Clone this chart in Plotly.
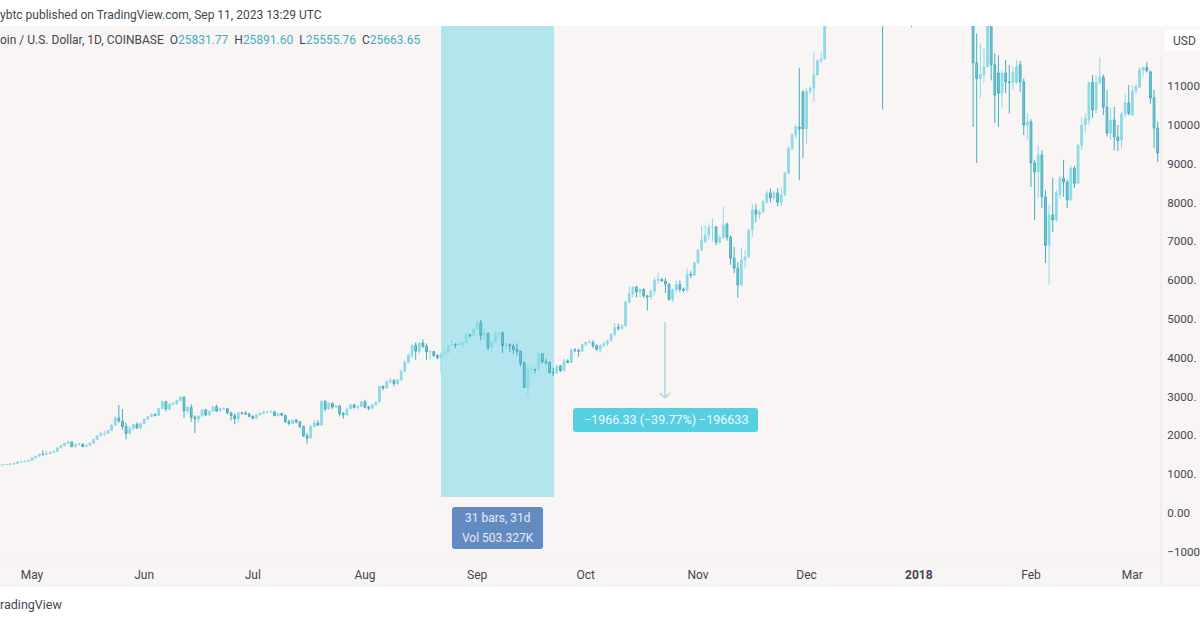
import pandas as pd
import plotly.graph_objects as go

START_DATE = "2017-04-22"

opens = [
    # Apr 22-30
    1225,1242,1250,1250,1262,1280,1318,1325,1337,
    # May
    1354,1421,1464,1515,1510,1530,1566,1584,1680,1740,1795,1830,1710,1770,1772,1710,1745,1800,1890,1990,2045,2050,2125,2265,2450,2370,2230,2050,2180,2280,2190,
    # Jun
    2300,2420,2485,2540,2515,2690,2870,2680,2800,2815,2900,2990,2630,2720,2470,2430,2500,2660,2530,2620,2740,2630,2690,2690,2580,2510,2430,2580,2570,2550,
    # Jul
    2490,2440,2530,2565,2600,2610,2610,2510,2565,2520,2350,2310,2395,2350,2230,1990,1930,2230,2320,2265,2880,2680,2830,2730,2760,2565,2530,2680,2790,2720,2750,
    # Aug
    2870,2730,2700,2790,2860,3260,3220,3390,3420,3340,3430,3650,3880,4060,4320,4170,4380,4300,4150,4160,4060,4000,4090,4140,4320,4350,4340,4345,4390,4590,4570,
    # Sep
    4740,4900,4580,4630,4270,4400,4620,4640,4320,4340,4310,4220,4170,3860,3240,3700,3700,3690,4100,3900,3880,3620,3610,3790,3670,3920,3880,4200,4190,4170,
    # Oct
    4340,4400,4400,4310,4220,4320,4370,4440,4610,4780,4760,4820,5440,5650,5820,5700,5760,5600,5570,5720,5990,6020,5980,5900,5510,5750,5890,5770,5750,6150,6130,
    # Nov
    6450,6780,7000,7160,7370,7370,6980,7100,7450,7110,6570,6310,5880,6520,6600,7290,7810,7700,7760,8020,8250,8120,8250,8010,8200,8760,9400,9740,9950,10850,
    # Dec
    9900,10870,10950,11290,11650,11700,13750,16800,16400,14950,15450,16700,17200,16200,16400,17600,19200,19000,18950,17500,16450,15550,13800,14650,13950,13950,15750,15370,14400,14400,12600,
    # Jan
    13860,13400,14750,15150,15300,16950,17100,16100,14950,14400,14900,13250,13800,14200,13600,13600,11600,11200,11300,11500,12900,11550,11340,10820,11340,11110,11100,11100,11550,11110,10000,
    # Feb
    10080,9020,8790,9230,8150,6900,7680,7550,8200,8630,8530,8070,8890,8500,9480,10000,10130,11100,10390,11100,11230,10460,9790,10130,9690,9610,10280,10570,
    # Mar 1-8
    10260,10880,10980,11420,11480,11370,10700,9920,
]
highs = [
    1250,1258,1260,1270,1290,1330,1345,1345,1365,
    1430,1475,1530,1620,1600,1585,1610,1700,1760,1810,1860,1835,1790,1810,1790,1770,1830,1910,2010,2090,2120,2150,2300,2500,2785,2680,2330,2250,2310,2340,2320,
    2440,2500,2565,2570,2700,2900,2880,2830,2860,2920,3000,3000,2760,2800,2520,2520,2680,2680,2650,2760,2790,2720,2730,2700,2610,2560,2600,2610,2620,2590,
    2520,2550,2600,2640,2630,2640,2620,2580,2590,2530,2410,2420,2420,2360,2250,2060,2280,2400,2400,2900,2900,2850,2840,2780,2770,2610,2720,2810,2800,2770,2890,
    2920,2760,2810,2880,3290,3290,3410,3490,3450,3460,3700,3950,4120,4340,4400,4400,4480,4370,4190,4180,4090,4130,4260,4340,4460,4370,4400,4400,4640,4620,4760,
    4970,4980,4730,4660,4460,4690,4680,4680,4390,4380,4350,4370,4180,3920,3790,3780,3720,4150,4120,3980,3910,3740,3830,3820,3980,3960,4250,4250,4220,4360,
    4420,4470,4450,4350,4350,4410,4460,4640,4890,4880,4870,5460,5850,5850,5860,5790,5790,5620,5760,6070,6190,6060,6060,5920,5780,5990,5990,5810,6300,6230,6470,
    6800,7400,7420,7470,7600,7400,7150,7890,7480,7150,6860,6470,6830,6780,7320,7960,7960,7820,8060,8320,8370,8300,8370,8370,8800,9450,9800,10000,11470,10900,
    10950,11000,11880,11700,11880,13850,17000,17300,16500,15800,17400,17600,17300,16600,17800,19400,19700,19200,19000,17700,17300,15800,15000,15000,14500,16000,16400,15500,15100,14500,14300,
    14000,15300,15400,15400,17100,17250,17100,16300,15300,14950,14950,14100,14650,14400,14300,13600,12360,12100,11980,13100,12900,11850,11800,11400,11680,11550,11500,11680,11650,11200,10300,
    10150,9100,9480,9350,8320,7940,8630,8320,8680,9100,8600,8950,8950,9500,10200,10300,11100,11290,11290,11750,11300,10900,10450,10460,10000,10350,10820,11030,
    11030,11050,11500,11500,11620,11400,10900,10080,
]
lows = [
    1218,1232,1240,1245,1258,1275,1300,1315,1330,
    1350,1410,1460,1480,1490,1525,1540,1580,1670,1720,1790,1700,1690,1750,1700,1700,1740,1800,1885,1985,1980,2040,2120,2260,2330,2150,1900,2020,2130,2170,2160,
    2290,2400,2470,2490,2510,2680,2620,2650,2770,2790,2880,2450,2560,2350,2060,2320,2480,2500,2500,2600,2600,2610,2660,2540,2380,2290,2340,2530,2530,2470,
    2410,2430,2520,2560,2580,2590,2490,2500,2510,2330,2260,2290,2310,2180,1960,1790,1920,2200,2240,2260,2620,2660,2680,2700,2490,2430,2500,2670,2690,2650,2730,
    2700,2650,2680,2760,2850,3160,3200,3330,3260,3300,3410,3640,3860,4000,3950,4100,4250,3950,3950,4020,3960,3620,4060,4110,4300,4250,4300,4270,4370,4530,4550,
    4720,4450,4450,4200,4130,4380,4520,4120,4220,4150,4100,4060,3780,3220,2990,3560,3600,3680,3860,3820,3600,3520,3590,3630,3660,3860,3870,4140,4030,4150,
    4280,4370,4250,4180,4130,4270,4300,4420,4560,4700,4720,4810,5400,5560,5560,5560,5540,5220,5490,5620,5900,5960,5670,5470,5430,5680,5690,5680,5690,6060,6100,
    6400,6750,6950,7030,7000,6900,6940,7050,7020,6400,6180,5540,5850,6300,6570,7110,7500,7580,7730,7980,8000,8050,7900,7890,8170,8730,9330,9650,8580,9150,
    9500,10800,10590,11280,11600,11720,13700,14500,13100,13400,15000,16300,15600,15900,16300,17200,18600,17000,16500,15000,15000,10400,13000,13300,13000,13900,14700,14000,13700,12520,12750,
    12750,12900,14600,14000,14700,16300,15700,13800,14000,13400,12800,13000,13800,12800,13400,9950,9020,10700,11080,11500,11150,10050,9950,10460,10820,10300,10900,11050,10850,9740,9610,
    8400,7550,8120,7860,6440,5880,7240,7500,8100,8150,7860,8050,8370,8480,9350,9800,10000,10180,10300,11050,10260,9700,9610,9350,9330,9400,10200,10250,
    10240,10800,10950,11250,11350,10550,9400,9050,
]
closes = [
    1242,1250,1250,1262,1280,1318,1325,1337,1354,
    1421,1464,1515,1510,1530,1566,1584,1680,1740,1795,1830,1710,1770,1772,1710,1745,1800,1890,1990,2045,2050,2125,2265,2450,2370,2230,2050,2180,2280,2190,2300,
    2420,2485,2540,2515,2690,2870,2680,2800,2815,2900,2990,2630,2720,2470,2430,2500,2660,2530,2620,2740,2630,2690,2690,2580,2510,2430,2580,2570,2550,2490,
    2440,2530,2565,2600,2610,2610,2510,2565,2520,2350,2310,2395,2350,2230,1990,1930,2230,2320,2265,2880,2680,2830,2730,2760,2565,2530,2680,2790,2720,2750,2870,
    2730,2700,2790,2860,3260,3220,3390,3420,3340,3430,3650,3880,4060,4320,4170,4380,4300,4150,4160,4060,4000,4090,4140,4320,4350,4340,4345,4390,4590,4570,4740,
    4900,4580,4630,4270,4400,4620,4640,4320,4340,4310,4220,4170,3860,3240,3700,3700,3690,4100,3900,3880,3620,3610,3790,3670,3920,3880,4200,4190,4170,4340,
    4400,4400,4310,4220,4320,4370,4440,4610,4780,4760,4820,5440,5650,5820,5700,5760,5600,5570,5720,5990,6020,5980,5900,5510,5750,5890,5770,5750,6150,6130,6450,
    6780,7040,7160,7370,7370,6980,7100,7420,7110,6570,6310,5880,6520,6600,7290,7810,7700,7760,8020,8250,8120,8250,8010,8200,8760,9400,9740,9950,9900,9900,
    10870,10950,11290,11650,11700,13750,16800,16400,14950,15450,16700,17200,16200,16400,17600,19200,19000,18950,17500,16450,15550,13800,14650,13950,13950,15750,15370,14400,14400,12600,13860,
    13400,14750,15150,15300,16950,17100,16100,14950,14400,14900,13250,13800,14200,13600,13600,11600,11200,11300,11500,12900,11550,10770,10820,11340,11110,11100,11350,11500,11110,10000,10080,
    9020,8790,9230,8150,6900,7680,7550,8250,8630,8530,8070,8890,8500,9480,10000,10170,11100,10390,11100,11230,10460,9790,10130,9690,9590,10280,10570,10300,
    10880,10990,11420,11480,11400,10700,9920,9280,
]

y_tick_vals = [-1000,0,1000,2000,3000,4000,5000,6000,7000,8000,9000,10000,11000]
y_tick_text = ["\u22121000","0.00","1000.","2000.","3000.","4000.","5000.",
               "6000.","7000.","8000.","9000.","10000","11000"]
x_tick_vals = ["2017-05-01","2017-06-01","2017-07-01","2017-08-01","2017-09-01","2017-10-01",
               "2017-11-01","2017-12-01","2018-01-01","2018-02-01","2018-03-01"]
x_tick_text = ["May","Jun","Jul","Aug","Sep","Oct","Nov","Dec","<b>2018</b>","Feb","Mar"]

assert len(opens) == len(highs) == len(lows) == len(closes) == 321
dates = pd.date_range(START_DATE, periods=len(opens), freq="D")

W, H = 1200, 620
FONT = "Roboto, Inter, sans-serif"
PANE = "#faf5f5"
TXT = "#43464f"
TEAL = "#3fb0c0"


def px(x):
    return x / W


def py(y):
    return 1 - y / H


def round_rect(x0, y0, x1, y1, r, fill):
    path = (f"M {px(x0+r)} {py(y0)} L {px(x1-r)} {py(y0)} Q {px(x1)} {py(y0)} {px(x1)} {py(y0+r)} "
            f"L {px(x1)} {py(y1-r)} Q {px(x1)} {py(y1)} {px(x1-r)} {py(y1)} "
            f"L {px(x0+r)} {py(y1)} Q {px(x0)} {py(y1)} {px(x0)} {py(y1-r)} "
            f"L {px(x0)} {py(y0+r)} Q {px(x0)} {py(y0)} {px(x0+r)} {py(y0)} Z")
    return dict(type="path", xref="paper", yref="paper", path=path, fillcolor=fill,
                line=dict(width=0), layer="above")


def paper_rect(x0, y0, x1, y1, fill):
    return dict(type="rect", xref="paper", yref="paper", x0=px(x0), x1=px(x1), y0=py(y1), y1=py(y0),
                fillcolor=fill, line=dict(width=0), layer="below")


def paper_line(x0, y0, x1, y1, color, width=1):
    return dict(type="line", xref="paper", yref="paper", x0=px(x0), x1=px(x1), y0=py(y0), y1=py(y1),
                line=dict(color=color, width=width), layer="above")


def label(x, y, text, color=TXT, size=12.5, anchor="left"):
    return dict(xref="paper", yref="paper", x=px(x), y=py(y), text=text, showarrow=False,
                xanchor=anchor, yanchor="middle", align=anchor, borderpad=0,
                font=dict(family=FONT, size=size, color=color))


fig = go.Figure(go.Candlestick(
    x=dates, open=opens, high=highs, low=lows, close=closes,
    increasing=dict(line=dict(color="#8cdae6", width=1), fillcolor="#8cdae6"),
    decreasing=dict(line=dict(color="#45adbe", width=1), fillcolor="#7ccdd9"),
    whiskerwidth=0, hoverinfo="skip", showlegend=False,
))

shapes = [
    paper_rect(0, 560, 1200, 586, PANE),
    paper_rect(1161, 26, 1200, 586, PANE),
    dict(type="rect", xref="x", yref="y", x0="2017-08-22", x1="2017-09-22 06:00", y0=412, y1=12551,
         fillcolor="#b2e5ed", line=dict(width=0), layer="below"),
    paper_line(0, 560, 1161, 560, "#ececee"),
    paper_line(0, 586, 1200, 586, "#ececee"),
    paper_line(1161, 56, 1161, 586, "#e4e6ec"),
    paper_line(665, 322, 665, 398, "#a9d5dd", 1.5),
    paper_line(660, 393, 665, 398, "#a9d5dd", 1.5),
    paper_line(670, 393, 665, 398, "#a9d5dd", 1.5),
    round_rect(573, 408, 758, 432, 3, "#56cfe1"),
    round_rect(452, 507, 543, 549, 3, "#648ac2"),
    round_rect(1165, 30, 1206, 51, 3, "#ffffff"),
]

annotations = [
    label(-1, 15, "ybtc published on TradingView.com, Sep 11, 2023 13:29 UTC", size=12),
    label(-1, 40, "oin / U.S. Dollar, 1D, COINBASE  "
                  f"O<span style='color:{TEAL}'>25831.77</span>  "
                  f"H<span style='color:{TEAL}'>25891.60</span>  "
                  f"L<span style='color:{TEAL}'>25555.76</span>  "
                  f"C<span style='color:{TEAL}'>25663.65</span>", size=12),
    label(-1, 604, "radingView", size=12.5),
    label(665.5, 420, "\u22121966.33 (\u221239.77%) \u2212196633", color="#eefafc", size=12.5, anchor="center"),
    label(497.5, 518, "31 bars, 31d", color="#e4ecf8", size=12, anchor="center"),
    label(497.5, 538, "Vol 503.327K", color="#e4ecf8", size=12, anchor="center"),
    label(1172, 41, "USD", color=TXT, size=12),
    label(1168, 151, "9103", color="#fdfbfb", size=11),
]

fig.update_layout(
    width=W, height=H, autosize=False,
    margin=dict(l=0, r=0, t=0, b=0, autoexpand=False),
    paper_bgcolor="#ffffff", plot_bgcolor=PANE,
    font=dict(family=FONT, size=12.5, color=TXT),
    showlegend=False,
    shapes=shapes, annotations=annotations,
    xaxis=dict(
        domain=[0, px(1161)], automargin=False,
        range=["2017-04-22 04:00", "2018-03-08 22:00"],
        rangeslider=dict(visible=False),
        showgrid=False, zeroline=False, showline=False,
        tickmode="array", tickvals=x_tick_vals, ticktext=x_tick_text,
        ticks="outside", ticklen=4, tickcolor="rgba(0,0,0,0)",
        tickfont=dict(family=FONT, size=12, color=TXT),
        anchor="y",
    ),
    yaxis=dict(
        domain=[py(560), py(26)], automargin=False,
        range=[-1211, 12551],
        side="right",
        showgrid=False, zeroline=False, showline=False,
        tickmode="array", tickvals=y_tick_vals, ticktext=y_tick_text,
        ticks="outside", ticklen=3, tickcolor="rgba(0,0,0,0)",
        tickfont=dict(family=FONT, size=11.6, color=TXT),
        anchor="x",
    ),
)

fig.write_html("out.html", config=dict(displayModeBar=False),
               post_script="document.body.style.margin='0';document.documentElement.style.overflow='hidden';")
